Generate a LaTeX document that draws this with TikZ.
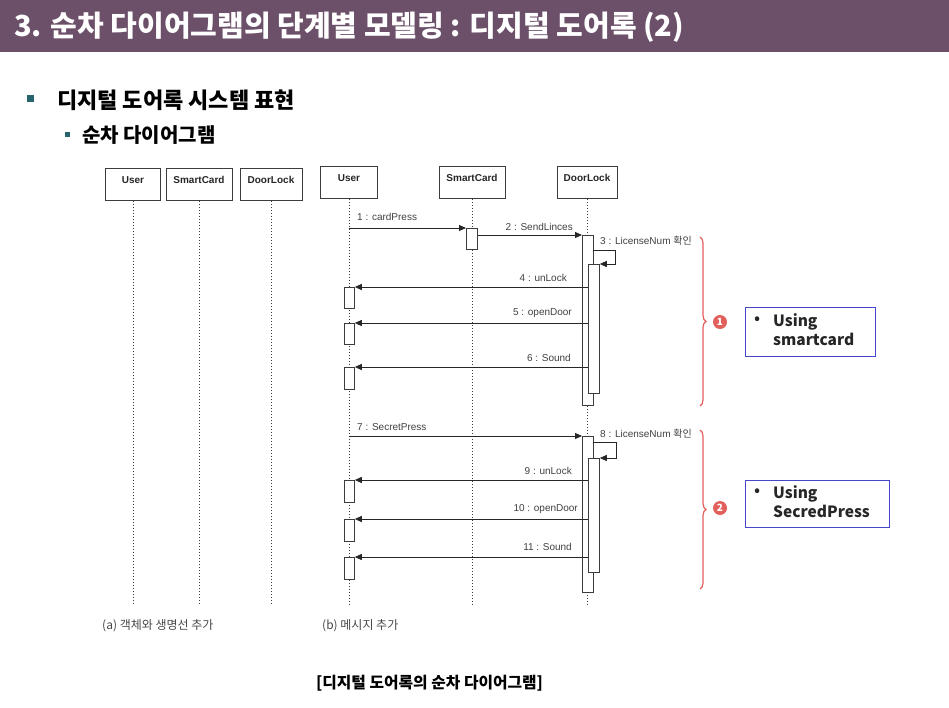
\documentclass[tikz,border=0pt]{standalone}
\usepackage{fontspec}
\setmainfont{Noto Sans CJK KR}
\newfontfamily\kr{Noto Sans CJK KR}
\newfontfamily\lab{Liberation Sans}
\usetikzlibrary{arrows.meta,decorations.pathreplacing}
\definecolor{titlebar}{RGB}{108,80,106}
\definecolor{teal}{RGB}{40,100,110}
\definecolor{bracered}{RGB}{226,96,92}
\definecolor{boxblue}{RGB}{70,70,200}
\definecolor{lineg}{RGB}{60,60,60}
\definecolor{capg}{RGB}{70,70,70}
\tikzset{
  obj/.style={draw=lineg, line width=0.9pt, fill=white, rectangle, inner sep=0pt,
    text height=15pt, text depth=17pt,
    font=\lab\bfseries\fontsize{10}{12}\selectfont, text=black!85},
  life/.style={draw=lineg, dotted, line width=1pt},
  act/.style={draw=lineg, line width=0.8pt, fill=white, rectangle, inner sep=0pt,
    minimum width=11pt, anchor=north west},
  msg/.style={draw=black!85, line width=0.9pt, -{Triangle[length=7pt,width=6pt]}},
  lbl/.style={font=\lab\fontsize{10}{11}\selectfont, text=black!75, inner sep=0pt},
  brc/.style={draw=bracered, line width=1.2pt, decorate, decoration={brace, amplitude=6pt}},
  num/.style={circle, fill=bracered, text=white, inner sep=0pt, minimum size=14pt,
    font=\bfseries\fontsize{10}{10}\selectfont},
  ubox/.style={draw=boxblue, line width=1pt, rectangle, anchor=north west},
  utxt/.style={font=\bfseries\fontsize{15.5}{19}\selectfont, text=black!85, inner sep=0pt, anchor=north west, align=left},
  ubul/.style={font=\fontsize{18}{18}\selectfont, text=black!85, inner sep=0pt},
  captxt/.style={font=\fontsize{12}{14}\selectfont, text=capg, inner sep=0pt, anchor=west},
}
\begin{document}
\begin{tikzpicture}[x=1pt,y=-1pt]
\useasboundingbox (0,0) rectangle (949,708);
% title bar
\fill[titlebar] (0,0) rectangle (949,52);
\node[anchor=west, text=white, inner sep=0pt, font=\bfseries\fontsize{29}{31}\selectfont] (title) at (14,27)
  {3. 순차 다이어그램의 단계별 모델링 : 디지털 도어록 (2)};
% bullets
\fill[teal] (27,95) rectangle (34,102);
\node[anchor=west, inner sep=0pt, font=\bfseries\fontsize{22}{24}\selectfont] (h1) at (57,100) {디지털 도어록 시스템 표현};
\fill[teal] (65,132) rectangle (70,137);
\node[anchor=west, inner sep=0pt, font=\bfseries\fontsize{20}{22}\selectfont] (h2) at (82,135) {순차 다이어그램};

\coordinate (bot) at (0,605);
% ---------- (a)
\node[obj, minimum width=55pt, anchor=north] (uA) at (133,168) {User};
\node[obj, minimum width=66pt, anchor=north] (sA) at (199,168) {SmartCard};
\node[obj, minimum width=62pt, anchor=north] (dA) at (271,168) {DoorLock};
\draw[life] (uA) -- (uA |- bot);
\draw[life] (sA) -- (sA |- bot);
\draw[life] (dA) -- (dA |- bot);
% ---------- (b)
\node[obj, minimum width=57pt, anchor=north] (uB) at (349,166) {User};
\node[obj, minimum width=66pt, anchor=north] (sB) at (472,166) {SmartCard};
\node[obj, minimum width=60pt, anchor=north] (dB) at (587,166) {DoorLock};
\draw[life] (uB) -- (uB |- bot);
\draw[life] (sB) -- (sB |- bot);
\draw[life] (dB) -- (dB |- bot);

% activations
\node[act, minimum height=21pt] (sc1) at (466,228) {};
\node[act, minimum height=170pt] (d1o) at (582,235) {};
\node[act, minimum height=129pt] (d1i) at (588,264) {};
\node[act, minimum width=10pt, minimum height=21pt] (u1) at (344,287) {};
\node[act, minimum width=10pt, minimum height=21pt] (u2) at (344,323) {};
\node[act, minimum width=10pt, minimum height=22pt] (u3) at (344,367) {};
\node[act, minimum height=156pt] (d2o) at (582,436) {};
\node[act, minimum height=114pt] (d2i) at (588,458) {};
\node[act, minimum width=10pt, minimum height=22pt] (u4) at (344,480) {};
\node[act, minimum width=10pt, minimum height=22pt] (u5) at (344,519) {};
\node[act, minimum width=10pt, minimum height=22pt] (u6) at (344,557) {};

% messages group 1
\draw[msg] (uB |- sc1.north) -- (sc1.north west);
\node[lbl, anchor=south west] (l1) at (357,221) {1 : cardPress};
\draw[msg] (sc1.east |- d1o.north) -- (d1o.north west);
\node[lbl, anchor=south east] (l2) at (573,231) {2 : SendLinces};
\coordinate (s3) at (593,250);
\draw[msg] (s3) -- ++(22,0) |- (d1i.north east);
\node[lbl, anchor=west] (l3) at (600,241) {3 : LicenseNum {\kr 확인}};
\draw[msg] (d1i.west |- u1.north) -- (u1.north east);
\node[lbl, anchor=south east] (l4) at (567,282) {4 : unLock};
\draw[msg] (d1i.west |- u2.north) -- (u2.north east);
\node[lbl, anchor=south east] (l5) at (572,318) {5 : openDoor};
\draw[msg] (d1i.west |- u3.north) -- (u3.north east);
\node[lbl, anchor=south east] (l6) at (571,362) {6 : Sound};

% messages group 2
\draw[msg] (uB |- d2o.north) -- (d2o.north west);
\node[lbl, anchor=south west] (l7) at (357,431) {7 : SecretPress};
\coordinate (s8) at (593,442);
\draw[msg] (s8) -- ++(23,0) |- (d2i.north east);
\node[lbl, anchor=west] (l8) at (600,434) {8 : LicenseNum {\kr 확인}};
\draw[msg] (d2i.west |- u4.north) -- (u4.north east);
\node[lbl, anchor=south east] (l9) at (572,475) {9 : unLock};
\draw[msg] (d2i.west |- u5.north) -- (u5.north east);
\node[lbl, anchor=south east] (l10) at (578,514) {10 : openDoor};
\draw[msg] (d2i.west |- u6.north) -- (u6.north east);
\node[lbl, anchor=south east] (l11) at (572,551) {11 : Sound};

% braces and markers
\draw[brc] (700,237) -- (700,406);
\node[num] (n1) at (720,322) {1};
\draw[brc] (700,430) -- (700,589);
\node[num] (n2) at (720,508) {2};

% notes
\node[ubox, minimum width=130pt, minimum height=49pt] (b1) at (745,307) {};
\node[ubul] (t1b) at (758,321) {•};
\node[utxt] (t1) at (773,313) {Using\\smartcard};
\node[ubox, minimum width=144pt, minimum height=47pt] (b2) at (745,480) {};
\node[ubul] (t2b) at (758,493) {•};
\node[utxt] (t2) at (773,485) {Using\\SecredPress};

% captions
\node[captxt] (ca) at (102,626) {(a) 객체와 생명선 추가};
\node[captxt] (cb) at (322,626) {(b) 메시지 추가};
\node[inner sep=0pt, font=\bfseries\fontsize{15.8}{17}\selectfont] (cc) at (429.5,683) {[디지털 도어록의 순차 다이어그램]};
\end{tikzpicture}
\end{document}
